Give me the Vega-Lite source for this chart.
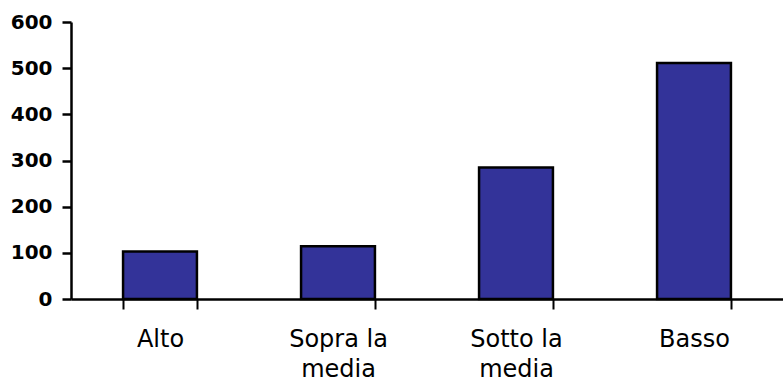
{
  "$schema": "https://vega.github.io/schema/vega-lite/v6.json",
  "width": 712,
  "height": 277,
  "autosize": {"type": "none"},
  "padding": {"left": 71, "top": 22, "right": 0, "bottom": 82},
  "background": "white",
  "config": {"view": {"stroke": null}},
  "data": {
    "values": [
      {"categoria": "Alto", "valore": 103},
      {"categoria": "Sopra la|media", "valore": 114},
      {"categoria": "Sotto la|media", "valore": 285},
      {"categoria": "Basso", "valore": 511}
    ]
  },
  "mark": {"type": "bar", "fill": "#333399", "stroke": "#000000", "strokeWidth": 2.5},
  "encoding": {
    "x": {
      "field": "categoria",
      "type": "nominal",
      "sort": null,
      "scale": {"paddingInner": 0.585, "paddingOuter": 0.2925},
      "axis": {
        "title": null,
        "labelAngle": 0,
        "labelExpr": "split(datum.label, '|')",
        "labelFont": "DejaVu Sans",
        "labelFontSize": 24,
        "labelColor": "#000000",
        "labelLineHeight": 30,
        "labelPadding": 18,
        "labelBaseline": "top",
        "tickBand": "extent",
        "tickSize": 10,
        "tickWidth": 2,
        "tickColor": "#000000",
        "domainColor": "#000000",
        "domainWidth": 2.5
      }
    },
    "y": {
      "field": "valore",
      "type": "quantitative",
      "scale": {"domain": [0, 600], "nice": false},
      "axis": {
        "title": null,
        "values": [0, 100, 200, 300, 400, 500, 600],
        "grid": false,
        "labelFont": "DejaVu Sans",
        "labelFontWeight": "bold",
        "labelFontSize": 20,
        "labelColor": "#000000",
        "labelPadding": 10,
        "tickSize": 9,
        "tickWidth": 2.5,
        "tickColor": "#000000",
        "domainColor": "#000000",
        "domainWidth": 2.5
      }
    }
  }
}
